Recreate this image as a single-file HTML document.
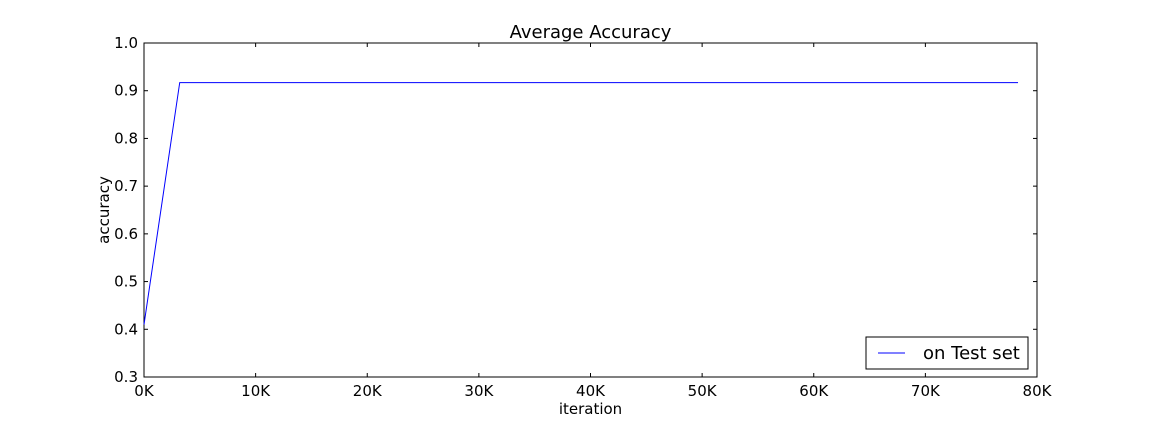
<!DOCTYPE html>
<html><head><meta charset="utf-8"><style>
body{margin:0;background:#fff}
svg text{font-family:"DejaVu Sans","Liberation Sans",sans-serif}
</style></head><body>
<svg id="c" width="1152" height="432" xmlns="http://www.w3.org/2000/svg"></svg>
<script>
const xTicks=[0,10000,20000,30000,40000,50000,60000,70000,80000];
const xTickLabels=["0K","10K","20K","30K","40K","50K","60K","70K","80K"];
const yTicks=[0.3,0.4,0.5,0.6,0.7,0.8,0.9,1.0];
const yTickLabels=["0.3","0.4","0.5","0.6","0.7","0.8","0.9","1.0"];
const iterations=[0,3200,78300];
const accuracy=[0.41,0.917,0.917];
const L=144,R=1037,T=43,B=377;
const sx=v=>L+(v-0)/(80000-0)*(R-L);
const sy=v=>B-(v-0.3)/(1.0-0.3)*(B-T);
const svg=document.getElementById('c');
const NS="http://www.w3.org/2000/svg";
function mk(tag,attrs,text){const e=document.createElementNS(NS,tag);for(const k in attrs)e.setAttribute(k,attrs[k]);if(text!==undefined)e.textContent=text;svg.appendChild(e);return e;}
let e;
e=mk('rect',{x:L,y:T,width:R-L,height:B-T,fill:'#fff',stroke:'#000','stroke-width':1});


xTicks.forEach((v,i)=>{const x=sx(v);
 e=mk('line',{x1:x,x2:x,y1:B,y2:B-4,stroke:'#000'});
 
 
 e=mk('line',{x1:x,x2:x,y1:T,y2:T+4,stroke:'#000'});
 
 
 e=mk('text',{x:x,y:B+19,'text-anchor':'middle','font-size':15},xTickLabels[i]);
 
 
});
yTicks.forEach((v,i)=>{const y=sy(v);
 e=mk('line',{x1:L,x2:L+4,y1:y,y2:y,stroke:'#000'});
 
 
 e=mk('line',{x1:R,x2:R-4,y1:y,y2:y,stroke:'#000'});
 
 
 e=mk('text',{x:L-6,y:y+5,'text-anchor':'end','font-size':15},yTickLabels[i]);
 
 
});
const pts=iterations.map((v,i)=>sx(v)+','+sy(accuracy[i])).join(' ');
e=mk('polyline',{points:pts,fill:'none',stroke:'#0000ff','stroke-width':1});


e=mk('text',{x:(L+R)/2,y:38,'text-anchor':'middle','font-size':18},'Average Accuracy');


e=mk('text',{x:(L+R)/2,y:414,'text-anchor':'middle','font-size':15},'iteration');


e=mk('text',{x:109,y:(T+B)/2,'text-anchor':'middle','font-size':15,transform:'rotate(-90 109 '+((T+B)/2)+')'},'accuracy');


e=mk('rect',{x:866,y:337,width:162,height:32,fill:'#fff',stroke:'#000'});


e=mk('line',{x1:878,x2:905,y1:353,y2:353,stroke:'#0000ff'});


e=mk('text',{x:923,y:359,'font-size':18},'on Test set');


</script>
</body></html>
